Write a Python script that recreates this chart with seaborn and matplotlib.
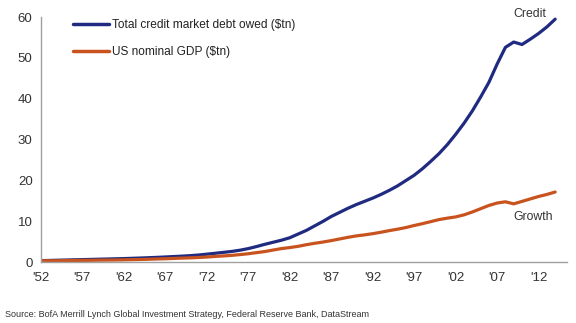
import matplotlib
matplotlib.use("Agg")
import matplotlib.pyplot as plt
import seaborn as sns
import pandas as pd

years = list(range(1952, 2015))
credit_debt = [0.40, 0.45, 0.50, 0.55, 0.60, 0.65, 0.70, 0.75, 0.80, 0.85,
               0.90, 0.97, 1.04, 1.12, 1.20, 1.30, 1.40, 1.50, 1.62, 1.78,
               1.98, 2.20, 2.42, 2.65, 2.95, 3.35, 3.85, 4.40, 4.90, 5.40,
               6.00, 6.90, 7.80, 8.90, 10.0, 11.2, 12.2, 13.2, 14.1, 14.9,
               15.7, 16.6, 17.6, 18.7, 20.0, 21.3, 22.9, 24.7, 26.6, 28.8,
               31.3, 34.0, 37.0, 40.4, 44.0, 48.5, 52.6, 53.9, 53.3, 54.6,
               56.0, 57.6, 59.5]
nominal_gdp = [0.36, 0.38, 0.38, 0.42, 0.44, 0.47, 0.48, 0.52, 0.54, 0.56,
               0.60, 0.64, 0.68, 0.74, 0.81, 0.86, 0.94, 1.02, 1.08, 1.17,
               1.28, 1.43, 1.55, 1.69, 1.88, 2.09, 2.36, 2.63, 3.00, 3.35,
               3.60, 3.90, 4.30, 4.65, 4.95, 5.30, 5.70, 6.10, 6.45, 6.70,
               7.00, 7.35, 7.75, 8.10, 8.50, 9.00, 9.45, 9.95, 10.45, 10.80,
               11.10, 11.60, 12.30, 13.10, 13.90, 14.50, 14.80, 14.30, 14.90, 15.50,
               16.10, 16.60, 17.20]
series_names = ["Total credit market debt owed ($tn)", "US nominal GDP ($tn)"]
series_colors = ["#1f2a80", "#c8531f"]
tick_years = list(range(1952, 2015, 5))
tick_labels = ["'" + str(y)[2:] for y in tick_years]
y_ticks = [0, 10, 20, 30, 40, 50, 60]

df = pd.DataFrame({
    "year": years * 2,
    "value": credit_debt + nominal_gdp,
    "series": [series_names[0]] * len(years) + [series_names[1]] * len(years),
})

sns.set_style("white")
plt.rcParams["font.family"] = ["Liberation Sans", "DejaVu Sans"]

fig = plt.figure(figsize=(5.76, 3.23), dpi=100)
ax = fig.add_axes([0.071, 0.188, 0.913, 0.759])

sns.lineplot(data=df, x="year", y="value", hue="series",
             palette=dict(zip(series_names, series_colors)),
             linewidth=2.3, ax=ax, legend=False)

ax.set_xlim(1952, 2015.4)
ax.set_ylim(0, 60)
ax.set_xticks(tick_years)
ax.set_xticklabels(tick_labels)
ax.set_yticks(y_ticks)
ax.set_xlabel("")
ax.set_ylabel("")

for side in ["top", "right"]:
    ax.spines[side].set_visible(False)
for side in ["left", "bottom"]:
    ax.spines[side].set_color("#a0a0a0")
    ax.spines[side].set_linewidth(1.0)
ax.tick_params(axis="both", which="both", direction="out", length=4,
               width=1.0, color="#a0a0a0", labelcolor="#333333",
               labelsize=9.5, pad=2)
ax.tick_params(axis="x", pad=3)

handles = [plt.Line2D([], [], color=c, linewidth=2.5) for c in series_colors]
ax.legend(handles, series_names, loc="upper left", frameon=False,
          bbox_to_anchor=(0.040, 1.035), fontsize=8.6, handlelength=3.0,
          handletextpad=0.3, labelspacing=1.25, labelcolor="#222222")

ax.text(2010.9, 60.8, "Credit", fontsize=8.8, color="#333333",
        ha="center", va="center", clip_on=False)
ax.text(2011.4, 11, "Growth", fontsize=8.8, color="#333333",
        ha="center", va="center")

fig.text(0.009, 0.025,
         "Source: BofA Merrill Lynch Global Investment Strategy, Federal Reserve Bank, DataStream",
         fontsize=6.5, color="#333333", ha="left", va="center")

fig.savefig("out.png", dpi=100, facecolor="white")
